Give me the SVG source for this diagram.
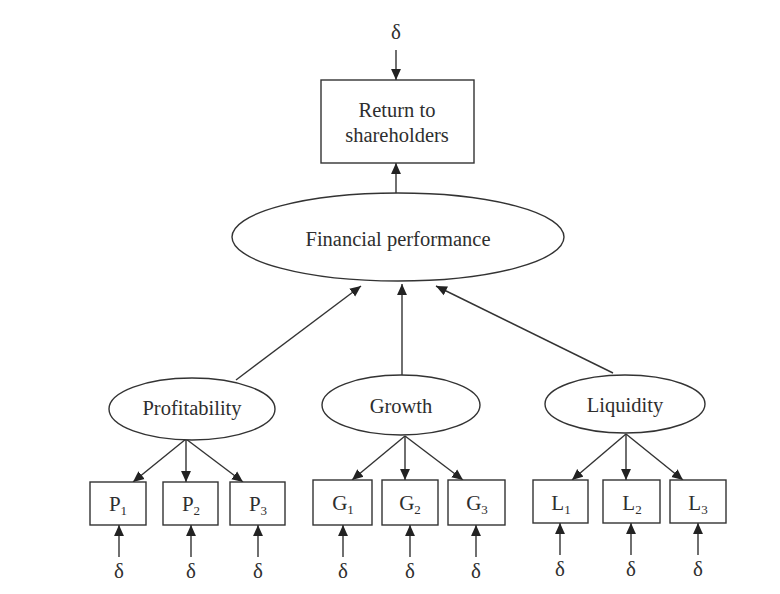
<svg xmlns="http://www.w3.org/2000/svg" width="780" height="594" viewBox="0 0 780 594">
<defs>
<marker id="ah" viewBox="0 0 10 10" refX="10" refY="5" markerWidth="11" markerHeight="11" markerUnits="userSpaceOnUse" orient="auto">
<path d="M0,0.5 L10,5 L0,9.5 Z" fill="#222"/>
</marker>
<style>
.ln{stroke:#333;stroke-width:1.4;fill:none;marker-end:url(#ah)}
.nd{fill:#fff;stroke:#333;stroke-width:1.4}
.t{font-family:"Liberation Serif","Times New Roman",serif;fill:#2e2e2e;text-anchor:middle}
.lbl{font-size:20.5px}
.var{font-size:21px}
.sub{font-size:13px}
.d{font-size:21px}
</style>
</defs>
<rect width="780" height="594" fill="#fff"/>
<g id="connectors">
<line class="ln" x1="396" y1="50" x2="396" y2="80"/>
<line class="ln" x1="396" y1="193" x2="396" y2="163"/>
<line class="ln" x1="236" y1="380" x2="361" y2="286"/>
<line class="ln" x1="402" y1="376" x2="402" y2="284"/>
<line class="ln" x1="613" y1="373" x2="436" y2="286"/>
<line class="ln" x1="186" y1="439" x2="133" y2="482"/>
<line class="ln" x1="186" y1="439" x2="186" y2="482"/>
<line class="ln" x1="186" y1="439" x2="243" y2="482"/>
<line class="ln" x1="405" y1="436" x2="352" y2="480"/>
<line class="ln" x1="405" y1="436" x2="405" y2="480"/>
<line class="ln" x1="405" y1="436" x2="463" y2="480"/>
<line class="ln" x1="626" y1="434" x2="572" y2="480"/>
<line class="ln" x1="626" y1="434" x2="626" y2="480"/>
<line class="ln" x1="626" y1="434" x2="683" y2="480"/>
<line class="ln" x1="119" y1="557" x2="119" y2="525"/>
<line class="ln" x1="191" y1="557" x2="191" y2="525"/>
<line class="ln" x1="258" y1="557" x2="258" y2="525"/>
<line class="ln" x1="343" y1="557" x2="343" y2="525"/>
<line class="ln" x1="410" y1="557" x2="410" y2="525"/>
<line class="ln" x1="476" y1="557" x2="476" y2="525"/>
<line class="ln" x1="560" y1="555" x2="560" y2="523"/>
<line class="ln" x1="631" y1="555" x2="631" y2="523"/>
<line class="ln" x1="698" y1="555" x2="698" y2="523"/>
</g>
<g id="delta-top"><text class="t d" x="396" y="39">δ</text></g>
<g id="return">
<rect class="nd" x="321" y="80" width="153" height="83"/>
<text class="t lbl" x="397" y="117">Return to</text>
<text class="t lbl" x="397" y="142">shareholders</text>
</g>
<g id="financial">
<ellipse class="nd" cx="398" cy="237" rx="166" ry="44"/>
<text class="t lbl" x="398" y="246">Financial performance</text>
</g>
<g id="profitability">
<ellipse class="nd" cx="192" cy="409" rx="83" ry="31"/>
<text class="t lbl" x="192" y="415">Profitability</text>
</g>
<g id="growth">
<ellipse class="nd" cx="401" cy="405" rx="79" ry="30"/>
<text class="t lbl" x="401" y="413">Growth</text>
</g>
<g id="liquidity">
<ellipse class="nd" cx="625" cy="404" rx="80" ry="29"/>
<text class="t lbl" x="625" y="412">Liquidity</text>
</g>
<g id="P1"><rect class="nd" x="90" y="482" width="56" height="43"/><text class="t var" x="118" y="511">P<tspan class="sub" dy="4">1</tspan></text></g>
<g id="P2"><rect class="nd" x="163" y="482" width="55" height="43"/><text class="t var" x="191" y="511">P<tspan class="sub" dy="4">2</tspan></text></g>
<g id="P3"><rect class="nd" x="230" y="482" width="55" height="43"/><text class="t var" x="258" y="511">P<tspan class="sub" dy="4">3</tspan></text></g>
<g id="G1"><rect class="nd" x="313" y="480" width="59" height="45"/><text class="t var" x="343" y="510">G<tspan class="sub" dy="4">1</tspan></text></g>
<g id="G2"><rect class="nd" x="382" y="480" width="56" height="45"/><text class="t var" x="410" y="510">G<tspan class="sub" dy="4">2</tspan></text></g>
<g id="G3"><rect class="nd" x="448" y="480" width="57" height="45"/><text class="t var" x="477" y="510">G<tspan class="sub" dy="4">3</tspan></text></g>
<g id="L1"><rect class="nd" x="533" y="480" width="55" height="43"/><text class="t var" x="561" y="510">L<tspan class="sub" dy="4">1</tspan></text></g>
<g id="L2"><rect class="nd" x="603" y="480" width="57" height="43"/><text class="t var" x="632" y="510">L<tspan class="sub" dy="4">2</tspan></text></g>
<g id="L3"><rect class="nd" x="670" y="480" width="56" height="43"/><text class="t var" x="698" y="510">L<tspan class="sub" dy="4">3</tspan></text></g>
<g id="deltas">
<text class="t d" x="119" y="578">δ</text>
<text class="t d" x="191" y="578">δ</text>
<text class="t d" x="258" y="578">δ</text>
<text class="t d" x="343" y="578">δ</text>
<text class="t d" x="410" y="578">δ</text>
<text class="t d" x="476" y="578">δ</text>
<text class="t d" x="560" y="576">δ</text>
<text class="t d" x="631" y="576">δ</text>
<text class="t d" x="698" y="576">δ</text>
</g>
</svg>
